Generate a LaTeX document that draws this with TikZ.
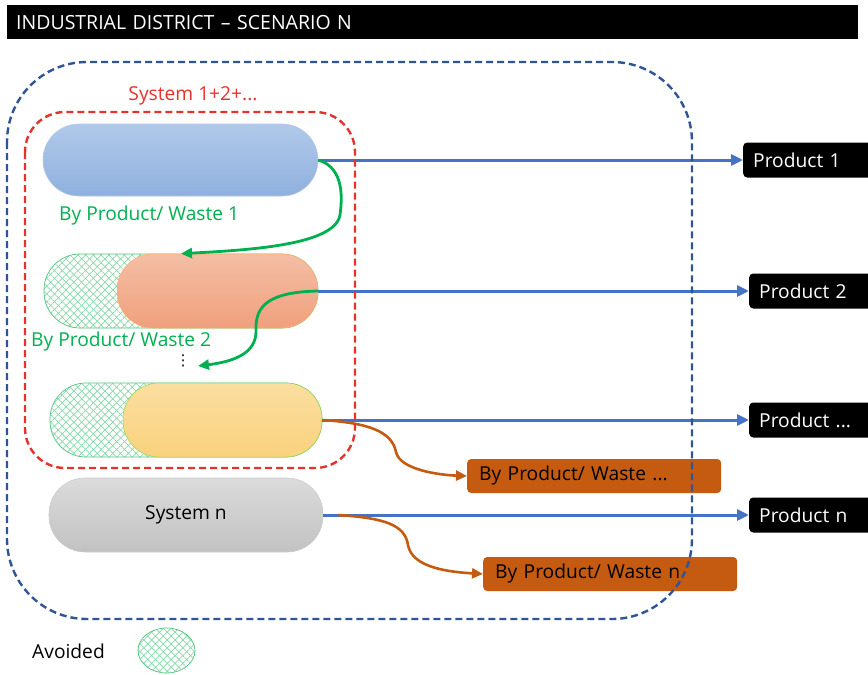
\documentclass[tikz,border=0pt]{standalone}
\usepackage{fontspec}
\setmainfont{Open Sans}
\newfontfamily\dejavu{DejaVu Sans}
\usetikzlibrary{arrows.meta,patterns.meta,shapes.geometric}
\definecolor{dblue}{HTML}{2F5597}
\definecolor{ablue}{HTML}{4472C4}
\definecolor{dred}{HTML}{E5322D}
\definecolor{dgreen}{HTML}{00B050}
\definecolor{hgreen}{HTML}{86D8A8}
\definecolor{bgreen}{HTML}{4CC07A}
\definecolor{dorange}{HTML}{C55A11}
\begin{document}
\begin{tikzpicture}[x=1pt,y=-1pt,
  txt/.style={font=\fontsize{19.2}{22}\selectfont},
  pill/.style={rounded corners=36pt, inner sep=0pt},
  hatch/.style={pill, draw=bgreen, line width=0.7pt,
    pattern={Lines[angle=45,distance=5.5pt,line width=0.7pt]}, pattern color=hgreen},
  prodbox/.style={txt, fill=black, text=white, rounded corners=4pt, anchor=west,
    minimum height=35pt, minimum width=140pt, text width=120pt, inner xsep=10pt, align=left},
  wastebox/.style={txt, fill=dorange, text=black, rounded corners=4pt, anchor=west,
    minimum height=34pt, minimum width=254pt, text width=230pt, inner xsep=12pt, align=left},
  greentext/.style={txt, text=dgreen, inner sep=0pt},
  bluearrow/.style={draw=ablue, line width=3pt, -{Triangle[length=12pt,width=11pt]}},
  greenarrow/.style={draw=dgreen, line width=2.8pt, -{Triangle[length=11pt,width=10pt]}},
  orangearrow/.style={draw=dorange, line width=2.6pt, -{Triangle[length=11pt,width=10pt]}},
  dashline/.style={line width=2.4pt, dash pattern=on 7pt off 4pt}
]
\useasboundingbox (0,0) rectangle (868,675);
\clip (0,0) rectangle (868,675);

% title
\node[fill=black, text=white, anchor=north west, minimum width=851pt, minimum height=34pt,
  text width=833pt, inner xsep=9pt, align=left, font=\fontsize{19.5}{22}\selectfont]
  (title) at (7,5) {INDUSTRIAL DISTRICT – SCENARIO N};

% system pills
\node[pill, minimum width=275pt, minimum height=72pt, draw=ablue!40, line width=0.6pt,
  top color={rgb,255:red,176;green,201;blue,233}, bottom color={rgb,255:red,143;green,176;blue,222}] (p1) at (180.5,160) {};

\node[hatch, minimum width=274pt, minimum height=74pt] (p2hatch) at (181,291) {};
\path[pill, pattern={Lines[angle=-45,distance=5.5pt,line width=0.7pt]}, pattern color=hgreen]
  (44,254) rectangle (318,328);
\node[pill, minimum width=201pt, minimum height=74pt, draw=orange!60, line width=0.5pt,
  top color={rgb,255:red,244;green,190;blue,165}, bottom color={rgb,255:red,240;green,160;blue,125}] (p2) at (217.5,291) {};

\node[hatch, minimum width=272pt, minimum height=74pt] (p3hatch) at (186,420) {};
\path[pill, pattern={Lines[angle=-45,distance=5.5pt,line width=0.7pt]}, pattern color=hgreen]
  (50,383) rectangle (322,457);
\node[pill, minimum width=199pt, minimum height=74pt, draw=bgreen!60!yellow, line width=0.5pt,
  top color={rgb,255:red,251;green,222;blue,160}, bottom color={rgb,255:red,249;green,210;blue,125}] (p3) at (222.5,420) {};

\node[pill, txt, minimum width=274pt, minimum height=74pt, draw=black!20, line width=0.6pt,
  top color=black!14, bottom color=black!24] (p4) at (186,515) {System n};

% labels
\node[txt, text=dred, inner sep=0pt] (s12) at (193,96) {System 1+2+...};
\node[greentext, anchor=west] (w1) at (59,216) {By Product/ Waste 1};
\node[greentext, anchor=west] (w2) at (31,342) {By Product/ Waste 2};
\node[inner sep=0pt, font=\dejavu\fontsize{15}{17}\selectfont] (dots) at (183,361) {⋮};
\coordinate (c2) at (198,366);

% product boxes
\node[prodbox] (prod1) at (743,160) {Product 1};
\node[prodbox] (prod2) at (749,291) {Product 2};
\node[prodbox] (prodx) at (749,420) {Product ...};
\node[prodbox] (prodn) at (749,515) {Product n};

% waste boxes
\node[wastebox] (wastex) at (467,476) {By Product/ Waste ...};
\node[wastebox] (wasten) at (483,574) {By Product/ Waste n};

% connectors
\draw[bluearrow] (p1.east) -- (prod1.west);
\draw[bluearrow] (p2.east) -- (prod2.west);
\draw[bluearrow] (p3.east) -- (prodx.west);
\draw[bluearrow] (p4.east) -- (prodn.west);

\draw[greenarrow] (p1.east) .. controls (345,168) and (342,200) .. (340,215)
  .. controls (335,245) and (250,250) .. (p2hatch.north);
\draw[greenarrow] (p2.east) .. controls (270,292) and (255,305) .. (256,330)
  .. controls (257,355) and (230,362) .. (c2);

\draw[orangearrow] (p3.east) .. controls (370,423) and (392,432) .. (396,452)
  .. controls (400,470) and (440,475) .. (wastex.west);
\coordinate (o2) at (338,515);
\draw[orangearrow] (o2) .. controls (385,518) and (405,525) .. (408,545)
  .. controls (412,568) and (450,572) .. (wasten.west);

% dashed frames
\draw[dashline, draw=dblue, rounded corners=80pt] (7,62) rectangle (692,619);
\draw[dashline, draw=dred, rounded corners=40pt] (25,112) rectangle (355,468);

% legend
\node[txt, inner sep=0pt] (avoided) at (68.5,651) {Avoided};
\node[ellipse, draw=bgreen, line width=0.7pt, minimum width=57pt, minimum height=45pt, inner sep=0pt,
  pattern={Lines[angle=45,distance=5.5pt,line width=0.7pt]}, pattern color=hgreen] (leg) at (166.5,650.5) {};
\path[pattern={Lines[angle=-45,distance=5.5pt,line width=0.7pt]}, pattern color=hgreen]
  (leg.center) ellipse [x radius=28.5pt, y radius=22.5pt];
\end{tikzpicture}
\end{document}
